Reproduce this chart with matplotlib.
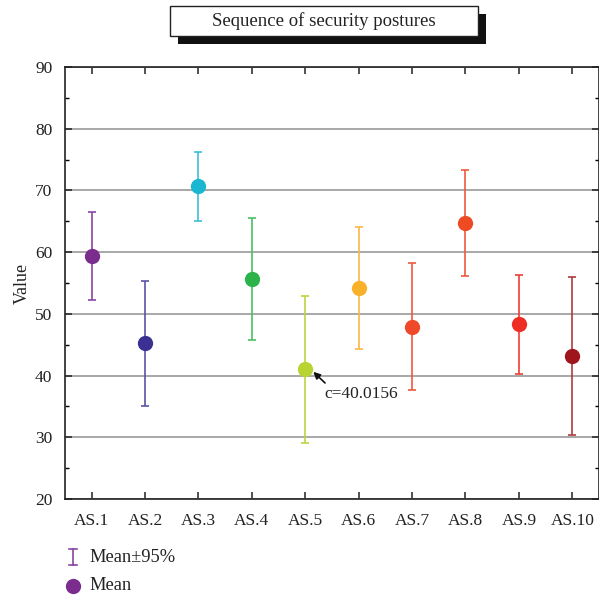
import matplotlib
matplotlib.use("Agg")
import matplotlib.pyplot as plt
from matplotlib.lines import Line2D
from matplotlib.patches import Rectangle

categories = ["AS.1", "AS.2", "AS.3", "AS.4", "AS.5", "AS.6", "AS.7", "AS.8", "AS.9", "AS.10"]
means = [59.3, 45.2, 70.7, 55.6, 41.0, 54.2, 47.9, 64.8, 48.3, 43.2]
upper = [66.5, 55.3, 76.3, 65.5, 52.9, 64.1, 58.2, 73.3, 56.3, 55.9]
lower = [52.2, 35.0, 65.1, 45.7, 29.0, 44.3, 37.6, 56.2, 40.3, 30.4]
point_colors = ["#7B2D8E", "#3A3192", "#1BB6D0", "#2DB34A", "#B8D432",
                "#F9B12A", "#EE4A2A", "#EE4A24", "#EE2E24", "#A0141C"]
bar_colors = ["#8A45A0", "#5A54A8", "#3CC0D6", "#4DBF62", "#BCD640",
              "#F9B845", "#EE5A40", "#EE5A3C", "#EE3E34", "#B03A40"]
annot_text = "c=40.0156"
annot_value = 41.0

plt.rcParams['font.family'] = ['Liberation Serif', 'DejaVu Serif']

fig = plt.figure(figsize=(5.99, 5.99), dpi=100)
ax = fig.add_axes([0.1085, 0.167, 0.8915, 0.721])

x = list(range(1, len(categories) + 1))
for i in range(len(categories)):
    ax.errorbar([x[i]], [means[i]],
                yerr=[[means[i] - lower[i]], [upper[i] - means[i]]],
                fmt='none', ecolor=bar_colors[i], elinewidth=1.2,
                capsize=3, capthick=1.2, zorder=3)
    ax.plot([x[i]], [means[i]], 'o', color=point_colors[i], markersize=11,
            markeredgewidth=0, zorder=4)

ax.set_xlim(0.5, 10.5)
ax.set_ylim(20, 90)
ax.set_yticks(range(20, 91, 10))
ax.set_yticks(range(25, 90, 10), minor=True)
ax.set_xticks(x)
ax.set_xticklabels(categories)
ax.yaxis.grid(True, color="#9a9a9a", linewidth=1.2)
ax.set_axisbelow(True)
ax.tick_params(axis='both', which='major', direction='in', length=5, width=1.1,
               labelsize=12.5, colors='#222222', labelcolor='#222222')
ax.tick_params(axis='y', which='minor', direction='in', length=3, width=1)
ax.tick_params(top=True, right=True, which='both')
ax.tick_params(axis='x', pad=10)
ax.tick_params(axis='y', pad=9)
for s in ax.spines.values():
    s.set_linewidth(1.2)
    s.set_color('#222222')
ax.set_ylabel("Value", fontsize=13, color='#222222', labelpad=3)

ax.annotate("", xy=(5.15, annot_value - 0.4), xytext=(5.37, 38.8),
            arrowprops=dict(arrowstyle='-|>', color='#111111', lw=1.2,
                            mutation_scale=10, shrinkA=0, shrinkB=0),
            zorder=5)
ax.text(5.36, 37.0, annot_text, fontsize=12.5, color='#222222',
        va='center', ha='left', zorder=5)

# Title box with shadow
bx0, by0, bw, bh = 170 / 599, 1 - 36 / 599, 308 / 599, 30 / 599
fig.patches.append(Rectangle((bx0 + 8 / 599, by0 - 8 / 599), bw, bh,
                             transform=fig.transFigure, facecolor='#111111',
                             edgecolor='none', zorder=1))
fig.patches.append(Rectangle((bx0, by0), bw, bh, transform=fig.transFigure,
                             facecolor='white', edgecolor='#222222',
                             linewidth=1.0, zorder=2))
fig.text(bx0 + bw / 2, by0 + bh / 2, "Sequence of security postures",
         ha='center', va='center', fontsize=13.5, color='#222222', zorder=3)

# Legend
lc = point_colors[0]
ex, ey = 73 / 599, 1 - 557 / 599
fig.add_artist(Line2D([ex, ex], [ey - 8 / 599, ey + 8 / 599], color='#8A45A0', lw=1.2,
                      transform=fig.transFigure))
fig.add_artist(Line2D([ex - 4 / 599, ex + 4 / 599], [ey + 8 / 599, ey + 8 / 599],
                      color='#8A45A0', lw=1.2, transform=fig.transFigure))
fig.add_artist(Line2D([ex - 4 / 599, ex + 4 / 599], [ey - 8 / 599, ey - 8 / 599],
                      color='#8A45A0', lw=1.2, transform=fig.transFigure))
fig.text(89 / 599, ey, "Mean±95%", ha='left', va='center', fontsize=13.3, color='#222222')
my = 1 - 586 / 599
fig.add_artist(Line2D([ex], [my], marker='o', color=lc, markersize=11,
                      markeredgewidth=0, transform=fig.transFigure))
fig.text(89 / 599, my, "Mean", ha='left', va='center', fontsize=13.3, color='#222222')

fig.savefig("out.png", dpi=100)
